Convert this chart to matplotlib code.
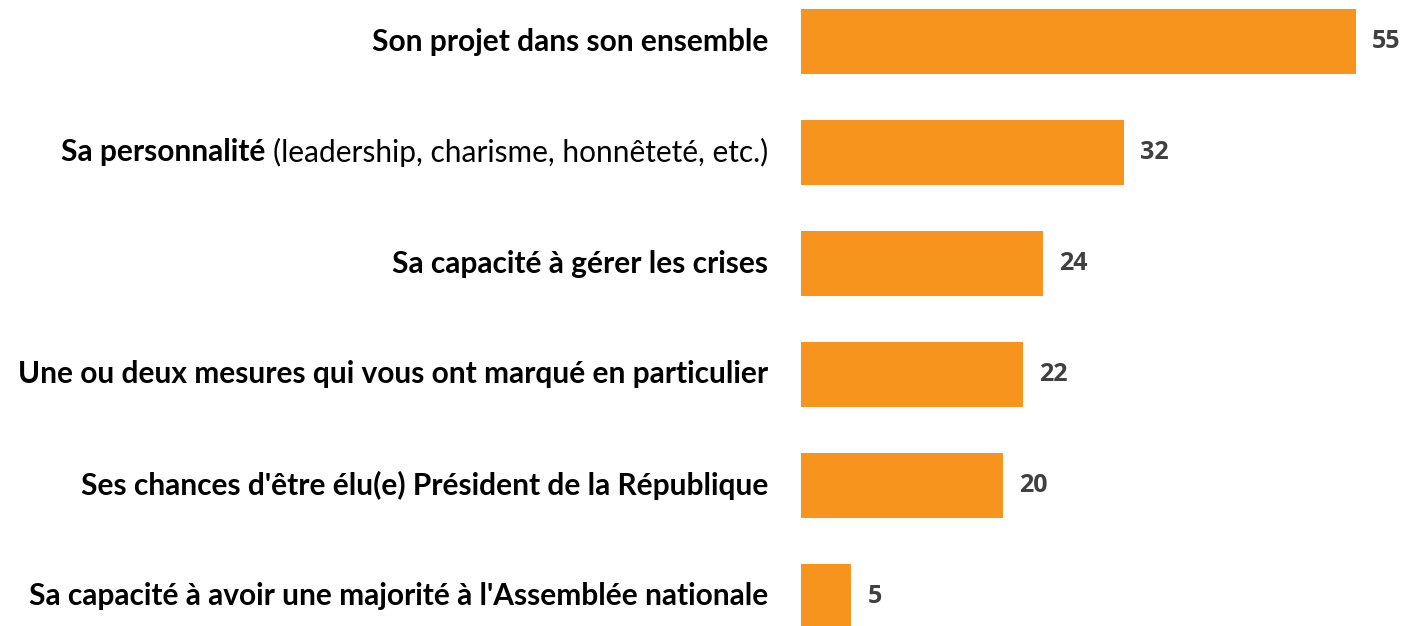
import matplotlib
matplotlib.use("Agg")
import matplotlib.pyplot as plt
import matplotlib.transforms as mtransforms

# data
labels = [
    "Son projet dans son ensemble",
    "Sa personnalité",
    "Sa capacité à gérer les crises",
    "Une ou deux mesures qui vous ont marqué en particulier",
    "Ses chances d'être élu(e) Président de la République",
    "Sa capacité à avoir une majorité à l'Assemblée nationale",
]
label_extra = ["", "(leadership, charisme, honnêteté, etc.)", "", "", "", ""]
values = [55, 32, 24, 22, 20, 5]

W, H = 1404, 626
fig = plt.figure(figsize=(W / 100, H / 100), dpi=100)
ax = fig.add_axes([801 / W, 0, 1 - 801 / W, 1])

px_per_unit = 555 / 55
row = 111
pos = list(range(len(values)))
ax.barh(pos, values, height=65 / row, color="#F7941D")
ax.set_xlim(0, (W - 801) / px_per_unit)
ax.set_ylim((H - 41.5) / row, -41.5 / row)
ax.axis("off")

trans = mtransforms.blended_transform_factory(fig.transFigure, ax.transData)
lab_font = dict(family=["Lato", "DejaVu Sans"], fontsize=21.5, color="black")
for i, (lab, extra) in enumerate(zip(labels, label_extra)):
    if extra:
        t = ax.text(768 / W, i, extra, transform=trans, ha="right", va="center",
                    fontweight="normal", **lab_font)
        ax.annotate(lab + " ", xy=(0, 0.5), xycoords=t, ha="right", va="center",
                    fontweight="bold", **lab_font)
    else:
        ax.text(768 / W, i, lab, transform=trans, ha="right", va="center",
                fontweight="bold", **lab_font)

for i, v in enumerate(values):
    ax.annotate(str(v), xy=(v, i), xytext=(16, 0), textcoords="offset pixels",
                ha="left", va="center", fontsize=18, fontweight="bold",
                color="#404040", family="Open Sans")

fig.savefig("out.png", dpi=100)
